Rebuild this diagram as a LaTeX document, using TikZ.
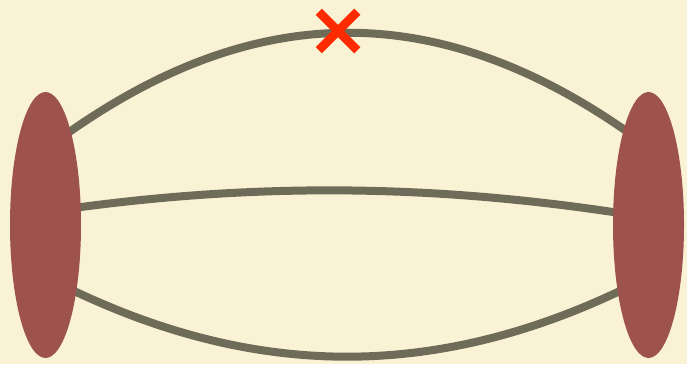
\documentclass[tikz,border=0pt]{standalone}
\usetikzlibrary{shapes.geometric,shapes.misc}
\definecolor{bg}{HTML}{FAF2D4}
\definecolor{blob}{HTML}{9E524D}
\definecolor{wire}{HTML}{6F6B59}
\definecolor{xred}{HTML}{FF2B00}
\begin{document}
\begin{tikzpicture}[x=1pt,y=-1pt,
  blobnode/.style={ellipse, fill=blob, draw=none, inner sep=0pt, minimum width=71pt, minimum height=266pt},
  wireline/.style={draw=wire, line width=8pt, shorten <=-12pt, shorten >=-12pt},
  xmark/.style={cross out, draw=xred, line width=8.5pt, inner sep=0pt, minimum size=30pt}]
\fill[bg] (0,0) rectangle (687,364);
\useasboundingbox (0,0) rectangle (687,364);
\coordinate (t1) at (72,130);
\coordinate (t2) at (625,130);
\coordinate (m1) at (81,207);
\coordinate (m2) at (613,212);
\coordinate (b1) at (76,292);
\coordinate (b2) at (618,292);
\draw[wireline] (t1) .. controls (256,-2) and (440.3,-2) .. (t2);
\draw[wireline] (m1) .. controls (257,182.67) and (434.33,184.33) .. (m2);
\draw[wireline] (b1) .. controls (256.67,380) and (437.33,380) .. (b2);
\node[blobnode] (L) at (45.5,225) {};
\node[blobnode] (R) at (648.5,225) {};
\node[xmark] (X) at (338,31) {};
\end{tikzpicture}
\end{document}
